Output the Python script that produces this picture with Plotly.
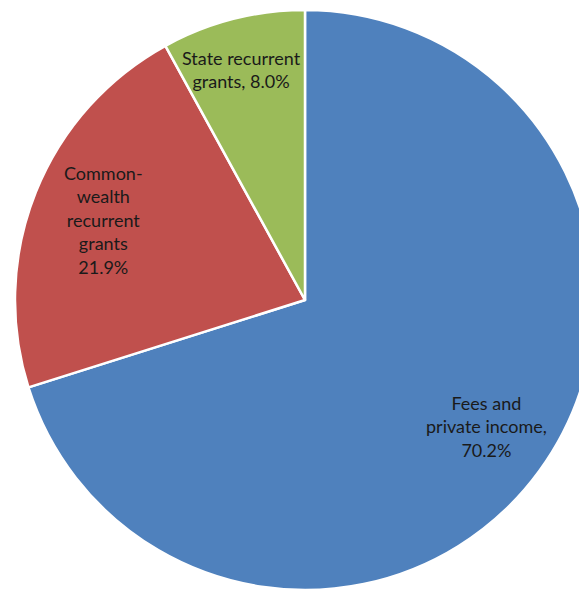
import plotly.graph_objects as go

labels = ["Fees and private income", "Commonwealth recurrent grants", "State recurrent grants"]
values = [70.2, 21.9, 8.0]
colors = ["#4F81BD", "#C0504D", "#9BBB59"]
label_texts = ["Fees and<br>private income,<br>70.2%",
               "Common-<br>wealth<br>recurrent<br>grants<br>21.9%",
               "State recurrent<br>grants, 8.0%"]
label_pos = [(0.816, 0.295), (0.162, 0.6425), (0.397, 0.897)]

W, H = 587, 593
fig = go.Figure(go.Pie(
    labels=labels, values=values, sort=False, direction="clockwise", rotation=0,
    marker=dict(colors=colors, line=dict(color="white", width=2.5)),
    textinfo="none", hoverinfo="label+percent", showlegend=False,
    domain=dict(x=[0.0119, 1.0], y=[0.0185, 0.9966]),
))
for t, (x, y) in zip(label_texts, label_pos):
    fig.add_annotation(text=t, x=x, y=y, xref="paper", yref="paper", showarrow=False,
                       xanchor="center", yanchor="middle",
                       font=dict(family="Lato", size=18, color="#1a1a1a"), align="center")
fig.update_layout(width=W, height=H, margin=dict(l=0, r=0, t=0, b=0),
                  paper_bgcolor="white", plot_bgcolor="white")
fig.write_html("out.html")
